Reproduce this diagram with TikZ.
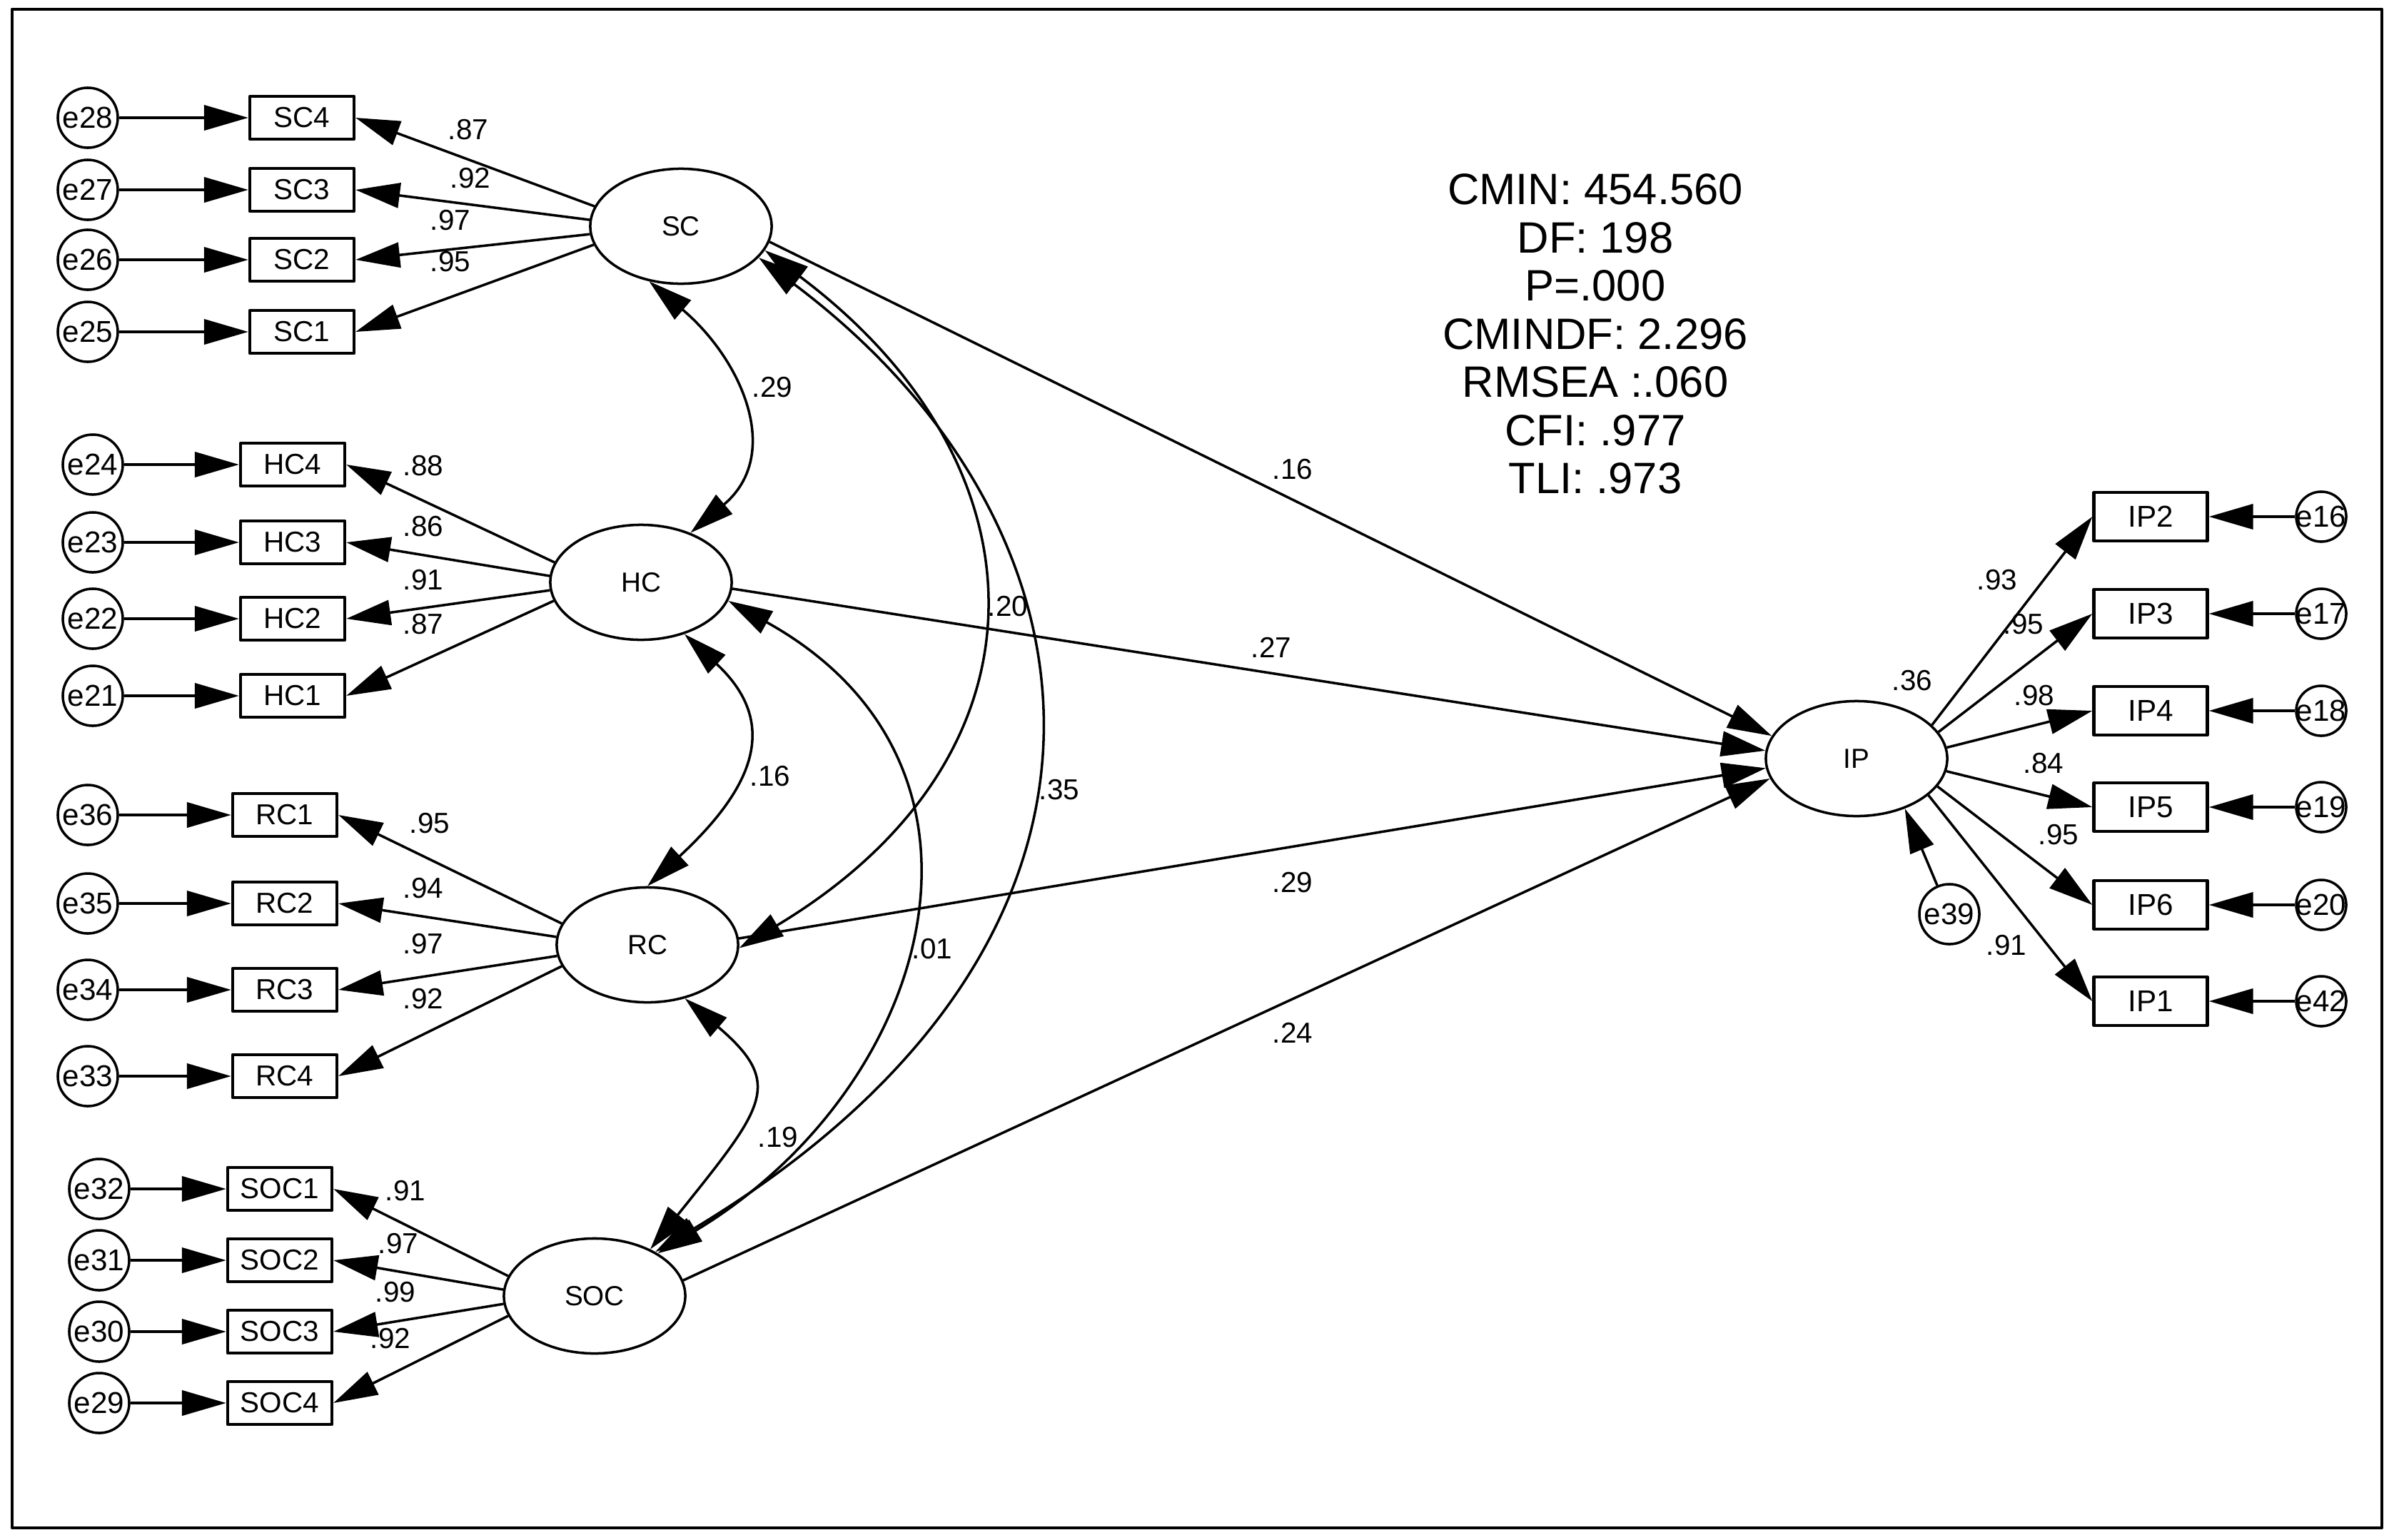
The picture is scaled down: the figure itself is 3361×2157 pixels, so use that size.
\documentclass[tikz,border=0pt]{standalone}
\usepackage{fontspec}
\setmainfont{Liberation Sans}
\usetikzlibrary{arrows.meta,shapes.geometric}
\begin{document}
\begin{tikzpicture}[x=0.01cm, y=-0.01cm, line join=round]
	\tikzset{
		amos/.tip={Triangle[length=6.2mm,width=3.5mm]},
		err/.style={circle, draw, line width=1pt, minimum size=8.4mm, inner sep=0pt, font=\fontsize{12}{12}\selectfont},
		errs/.style={err, minimum size=7mm},
		obs/.style={draw, line width=1.2pt, minimum width=14.6mm, minimum height=6mm, inner sep=0pt, font=\fontsize{11.5}{12}\selectfont},
		obsip/.style={obs, minimum width=15.9mm, minimum height=6.8mm, font=\fontsize{12}{12}\selectfont},
		lat/.style={ellipse, draw, line width=1pt, minimum width=25.4mm, minimum height=16.1mm, inner sep=0pt, font=\fontsize{11}{12}\selectfont},
		reg/.style={-amos, line width=1pt},
		errarr/.style={-amos, line width=1.2pt},
		cov/.style={amos-amos, line width=1pt},
		coef/.style={inner sep=0pt, font=\fontsize{11.5}{12}\selectfont},
		fitbox/.style={align=center, inner sep=0pt, font=\fontsize{17.5}{19.2}\selectfont}
	}
	\useasboundingbox (0,0) rectangle (3361,2157);
	\draw[line width=1.2pt] (17,13) rectangle (3337,2141);
	\node[lat] (SC) at (954,317) {SC};
	\node[lat] (HC) at (898,816) {HC};
	\node[lat] (RC) at (907,1324) {RC};
	\node[lat] (SOC) at (833,1816) {SOC};
	\node[lat] (IP) at (2601,1063) {IP};
	\foreach \lv/\bx/\ex/\rows in {SC/423/123/{4/165/28/167/.87/656/182,3/266/27/176/.92/659/250,2/364/26/185/.97/631/309,1/465/25/192/.95/631/367},HC/410/130/{4/651/24/167/.88/593/653,3/760/23/176/.86/593/738,2/867/22/185/.91/593/813,1/975/21/192/.87/593/875},RC/399/123/{1/1142/36/166/.95/602/1154,2/1266/35/175/.94/593/1245,3/1387/34/187/.97/593/1323,4/1508/33/194/.92/593/1400},SOC/392/139/{1/1666/32/167/.91/568/1669,2/1766/31/176/.97/558/1743,3/1866/30/185/.99/554/1811,4/1966/29/193/.92/547/1876}}{
		\foreach \n/\y/\en/\ang/\val/\lx/\ly in \rows {
			\node[obs] (\lv\n) at (\bx,\y) {\lv\n};
			\node[err] (e\en) at (\ex,\y) {e\en};
			\draw[errarr] (e\en) -- (\lv\n);
			\draw[reg] (\lv.\ang) -- (\lv\n.east);
			\node[coef] (c\lv\n) at (\lx,\ly) {\val};
		}
	}
	\foreach \n/\y/\en/\ang/\val/\lx/\ly in {2/724/16/24/.93/2798/813,3/860/17/18/.95/2835/875,4/996/18/7/.98/2850/975,5/1131/19/-8/.84/2863/1070,6/1268/20/-19/.95/2884/1170,1/1403/42/-27/.91/2811/1325}{
		\node[obsip] (IP\n) at (3013,\y) {IP\n};
		\node[errs] (e\en) at (3252,\y) {\makebox[0pt]{e\en}};
		\draw[errarr] (e\en) -- (IP\n);
		\draw[reg] (IP.\ang) -- (IP\n.west);
		\node[coef] (cIP\n) at (\lx,\ly) {\val};
	}
	\node[err] (e39) at (2731,1281) {e39};
	\draw[reg] (e39) -- (IP.-46);
	\node[coef] (r2IP) at (2679,954) {.36};
	\draw[reg] (SC.-10) -- (IP.165);
	\draw[reg] (HC.-4) -- (IP.175);
	\draw[reg] (RC.4) -- (IP.186);
	\draw[reg] (SOC.10) -- (IP.193);
	\node[coef] (pSC) at (1811,658) {.16};
	\node[coef] (pHC) at (1781,907) {.27};
	\node[coef] (pRC) at (1811,1237) {.29};
	\node[coef] (pSOC) at (1811,1447) {.24};
	\draw[cov] (SC.240) .. controls +(130,110) and +(130,-110) .. (HC.45);
	\draw[cov] (HC.310) .. controls +(140,130) and +(140,-130) .. (RC.90);
	\draw[cov] (RC.305) .. controls +(140,120) and +(160,-200) .. (SOC.40);
	\draw[cov] (SC.-16) .. controls +(400,300) and +(450,-270) .. (RC.-2);
	\draw[cov] (SC.-22) .. controls +(496,372) and +(728,-438) .. (SOC.36);
	\draw[cov] (HC.-12) .. controls +(416,231) and +(384,-231) .. (SOC.34);
	\node[coef] (kSCHC) at (1082,543) {.29};
	\node[coef] (kHCRC) at (1079,1088) {.16};
	\node[coef] (kRCSOC) at (1090,1594) {.19};
	\node[coef] (kSCRC) at (1412,850) {.20};
	\node[coef] (kSCSOC) at (1484,1107) {.35};
	\node[coef] (kHCSOC) at (1306,1330) {.01};
	\node[fitbox] (fitidx) at (2235,468) {CMIN: 454.560\\DF: 198\\P=.000\\CMINDF: 2.296\\RMSEA :.060\\CFI: .977\\TLI: .973};
\end{tikzpicture}
\end{document}
